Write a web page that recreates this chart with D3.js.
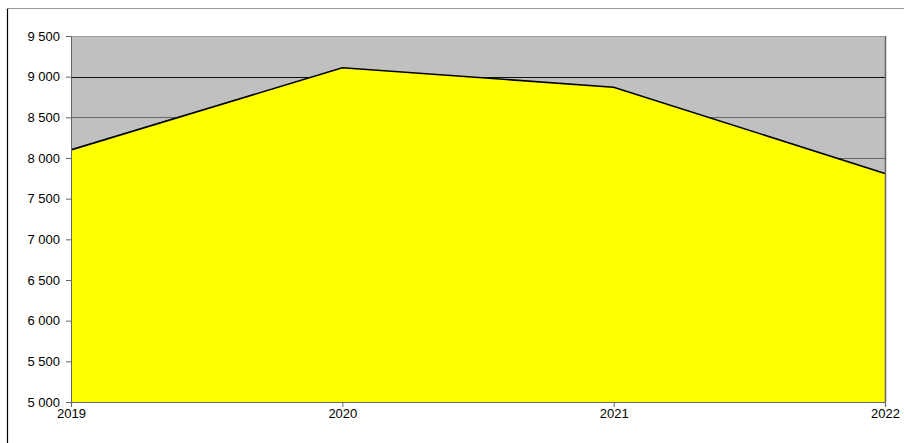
<!DOCTYPE html>
<html>
<head>
<meta charset="utf-8">
<script src="https://cdn.jsdelivr.net/npm/d3@7"></script>
<style>
  html, body { margin: 0; padding: 0; background: #fff; }
  svg { display: block; }
  text { font-family: "Liberation Sans", Arial, sans-serif; font-size: 13px; fill: #000; }
</style>
</head>
<body>
<svg id="chart" width="904" height="443"></svg>
<script>
const years = ["2019", "2020", "2021", "2022"];
const values = [8100, 9110, 8870, 7810];
const yTicks = [5000, 5500, 6000, 6500, 7000, 7500, 8000, 8500, 9000, 9500];

const svg = d3.select("#chart");
const W = 904, H = 443;
const m = { left: 71, right: 19, top: 36, bottom: 41 };
const x0 = m.left, x1 = W - m.right, y0 = H - m.bottom, y1 = m.top;

// outer frame
svg.append("line").attr("x1", 7.5).attr("x2", 7.5).attr("y1", 8).attr("y2", H)
  .attr("stroke", "#000").attr("stroke-width", 1.2);
svg.append("line").attr("x1", 7).attr("x2", W).attr("y1", 8.5).attr("y2", 8.5)
  .attr("stroke", "#999").attr("stroke-width", 1.2);

const x = d3.scalePoint().domain(years).range([x0, x1]);
const y = d3.scaleLinear().domain([5000, 9500]).range([y0, y1]);

// plot background
svg.append("rect").attr("x", x0).attr("y", y1).attr("width", x1 - x0).attr("height", y0 - y1)
  .attr("fill", "#c0c0c0");

// gridlines
svg.append("g").selectAll("line").data(yTicks.filter(t => t > 5000)).join("line")
  .attr("x1", x0).attr("x2", x1)
  .attr("y1", d => Math.round(y(d)) + 0.5).attr("y2", d => Math.round(y(d)) + 0.5)
  .attr("stroke", d => d === 9500 ? "#999" : (d === 9000 ? "#111" : "#666"))
  .attr("stroke-width", 1.2);

// area
const pts = years.map((yr, i) => ({ yr, v: values[i] }));
svg.append("path").datum(pts)
  .attr("d", d3.area().x(d => x(d.yr)).y0(y0).y1(d => y(d.v)))
  .attr("fill", "#ffff00");
svg.append("path").datum(pts)
  .attr("d", d3.line().x(d => x(d.yr)).y(d => y(d.v)))
  .attr("fill", "none").attr("stroke", "#000").attr("stroke-width", 1.6);

// right border of plot
svg.append("line").attr("x1", x1 + 0.5).attr("x2", x1 + 0.5).attr("y1", y1).attr("y2", y0)
  .attr("stroke", "#666").attr("stroke-width", 1.5);

// axes
const fmt = d => d3.format(",")(d).replace(/,/g, " ");
const yAxis = svg.append("g").attr("transform", `translate(${x0},0)`)
  .call(d3.axisLeft(y).tickValues(yTicks).tickFormat(fmt).tickSize(5).tickPadding(6));
yAxis.select(".domain").attr("stroke", "#666");
yAxis.selectAll(".tick line").attr("stroke", "#666");
yAxis.selectAll("text").style("font-size", "13px").attr("fill", "#000");

const xAxis = svg.append("g").attr("transform", `translate(0,${y0})`)
  .call(d3.axisBottom(x).tickSize(5).tickPadding(2));
xAxis.select(".domain").attr("stroke", "#666").attr("stroke-width", 1.2);
xAxis.selectAll(".tick line").attr("stroke", "#666");
xAxis.selectAll("text").style("font-size", "13px").attr("fill", "#000");
</script>
</body>
</html>
